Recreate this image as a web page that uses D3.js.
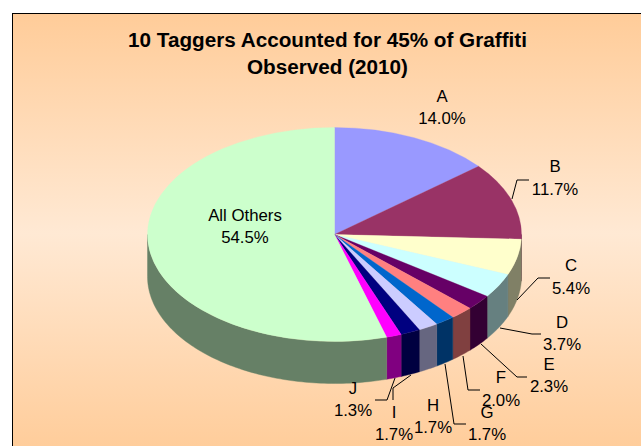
<!DOCTYPE html>
<html>
<head>
<meta charset="utf-8">
<script src="https://cdn.jsdelivr.net/npm/d3@7"></script>
<style>
  html, body { margin: 0; padding: 0; background: #fff; }
  svg { display: block; }
  text { font-family: "Liberation Sans", Arial, sans-serif; fill: #000; }
</style>
</head>
<body>
<div id="my_dataviz"></div>
<script>
var categories = ["A", "B", "C", "D", "E", "F", "G", "H", "I", "J", "All Others"];
var shares = [14.0, 11.7, 5.4, 3.7, 2.3, 2.0, 1.7, 1.7, 1.7, 1.3, 54.5];
var topColors = ["#9999FF", "#993366", "#FFFFCC", "#CCFFFF", "#660066", "#FF8080",
                 "#0066CC", "#CCCCFF", "#000080", "#FF00FF", "#CCFFCC"];
var titleLines = ["10 Taggers Accounted for 45% of Graffiti", "Observed (2010)"];

// label layout, centre x and the centre y of each of the two lines
var labelX = [442, 555, 571, 562, 549, 501, 487, 433, 394, 353, 245];
var labelY1 = [96, 166, 265, 322, 364, 377, 412, 405, 412, 388, 215];
var labelY2 = [118, 189, 288, 344, 386, 400, 434, 427, 434, 410, 237];

// leader lines, H and A and All Others have none
var leaders = [
  null,
  [[512, 199], [517, 180], [529, 180]],
  [[517, 300], [538, 278], [550, 278]],
  [[500, 328], [532, 334], [541, 334]],
  [[481, 344], [517, 377], [527, 377]],
  [[463, 356], [468, 390], [480, 390]],
  [[445, 364], [454, 424], [466, 424]],
  null,
  [[411, 375], [393, 388], [393, 400]],
  [[395, 378], [387, 400], [375, 400]],
  null
];

var width = 641, height = 446;
var cx = 334.5, cy = 234.5, rx = 187, ry = 107, depth = 42;

var svg = d3.select("#my_dataviz")
  .append("svg")
    .attr("width", width)
    .attr("height", height);

// background, fades to pale in the middle and back
var grad = svg.append("defs").append("linearGradient")
    .attr("id", "bg")
    .attr("x1", 0).attr("y1", 0).attr("x2", 0).attr("y2", 1);
grad.append("stop").attr("offset", "0%").attr("stop-color", "#FFCC99");
grad.append("stop").attr("offset", "50%").attr("stop-color", "#FFE9D4");
grad.append("stop").attr("offset", "100%").attr("stop-color", "#FFCC99");

svg.append("rect")
    .attr("x", 12.5).attr("y", 13.5)
    .attr("width", 640).attr("height", 440)
    .style("fill", "url(#bg)")
    .style("stroke", "#000")
    .style("stroke-width", 1);

var title = svg.append("g").selectAll("text")
    .data(titleLines)
    .enter()
    .append("text")
      .attr("x", 327.5)
      .attr("y", function(d, i) { return 47 + i * 27; })
      .attr("text-anchor", "middle")
      .style("font-size", "20.7px")
      .style("font-weight", "bold")
      .text(function(d) { return d; });

var pie = d3.pie().sort(null).value(function(d) { return d; });
var slices = pie(shares);

function px(a) { return cx + rx * Math.sin(a); }
function py(a) { return cy - ry * Math.cos(a); }

// side wall, only the front half of the ellipse shows
var wall = svg.append("g");
slices.forEach(function(s, i) {
  var a0 = Math.max(s.startAngle, Math.PI / 2);
  var a1 = Math.min(s.endAngle, Math.PI * 1.5);
  if (a1 <= a0) return;
  var n = Math.ceil((a1 - a0) / 0.02);
  var angles = d3.range(n + 1).map(function(k) { return a0 + (a1 - a0) * k / n; });
  var pts = angles.map(function(a) { return [px(a), py(a)]; })
    .concat(angles.slice().reverse().map(function(a) { return [px(a), py(a) + depth]; }));
  var c = d3.rgb(topColors[i]);
  var side = d3.rgb(c.r * 0.5, c.g * 0.5, c.b * 0.5);
  wall.append("path")
      .attr("d", d3.line()(pts) + "Z")
      .style("fill", side)
      .style("stroke", side)
      .style("stroke-width", 0.4);
});

// top face, a flat pie squashed into an ellipse
var face = svg.append("g")
    .attr("transform", "translate(" + cx + "," + cy + ") scale(1," + (ry / rx) + ")");
face.selectAll("path")
    .data(slices)
    .enter()
    .append("path")
      .attr("d", d3.arc().innerRadius(0).outerRadius(rx))
      .style("fill", function(d, i) { return topColors[i]; })
      .style("stroke", function(d, i) { return topColors[i]; })
      .style("stroke-width", 0.4);

// leader lines
svg.append("g").selectAll("path")
    .data(leaders.filter(function(d) { return d; }))
    .enter()
    .append("path")
      .attr("d", d3.line())
      .style("fill", "none")
      .style("stroke", "#000")
      .style("stroke-width", 1);

// labels
var labels = svg.append("g").selectAll("g")
    .data(categories)
    .enter()
    .append("g");
labels.append("text")
    .attr("x", function(d, i) { return labelX[i]; })
    .attr("y", function(d, i) { return labelY1[i]; })
    .attr("dy", "0.35em")
    .attr("text-anchor", "middle")
    .style("font-size", "16.8px")
    .text(function(d) { return d; });
labels.append("text")
    .attr("x", function(d, i) { return labelX[i]; })
    .attr("y", function(d, i) { return labelY2[i]; })
    .attr("dy", "0.35em")
    .attr("text-anchor", "middle")
    .style("font-size", "16.8px")
    .text(function(d, i) { return shares[i].toFixed(1) + "%"; });
</script>
</body>
</html>
